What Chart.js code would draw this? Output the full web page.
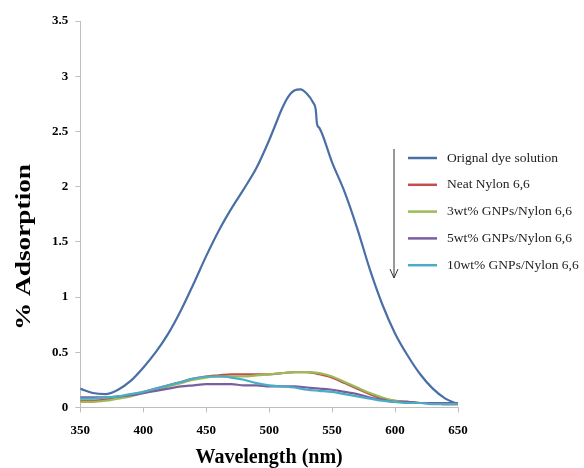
<!DOCTYPE html>
<html>
<head>
<meta charset="utf-8">
<script src="https://cdn.jsdelivr.net/npm/chart.js@4/dist/chart.umd.min.js"></script>
<style>
  html, body { margin: 0; padding: 0; background: #fff; }
  #wrap { width: 584px; height: 468px; }
</style>
</head>
<body>
<div id="wrap"><canvas id="spectra"></canvas></div>
<script>
// wavelengths for the dye curve (extra points round the peak)
let dyeWavelengths = [350, 360, 370, 380, 390, 400, 410, 420, 430, 440, 450, 460, 470, 480, 490, 500, 505, 510, 515, 520, 525, 530, 535, 537, 538, 540, 550, 560, 570, 580, 590, 600, 610, 620, 630, 640, 650];
let dyeValues = [0.17, 0.13, 0.12, 0.16, 0.24, 0.36, 0.5, 0.67, 0.88, 1.12, 1.37, 1.6, 1.8, 1.98, 2.17, 2.42, 2.56, 2.7, 2.81, 2.87, 2.88, 2.84, 2.76, 2.7, 2.57, 2.53, 2.22, 1.95, 1.62, 1.25, 0.93, 0.67, 0.47, 0.3, 0.17, 0.08, 0.03];

// wavelengths for the membrane curves
let wavelengths = [350, 360, 370, 380, 390, 400, 410, 420, 430, 440, 450, 460, 470, 480, 490, 500, 510, 520, 530, 540, 550, 560, 570, 580, 590, 600, 610, 620, 630, 640, 650];
let neatNylon = [0.06, 0.06, 0.07, 0.09, 0.11, 0.14, 0.17, 0.2, 0.23, 0.26, 0.28, 0.29, 0.3, 0.3, 0.3, 0.3, 0.31, 0.32, 0.32, 0.3, 0.27, 0.22, 0.17, 0.12, 0.08, 0.06, 0.05, 0.04, 0.04, 0.03, 0.03];
let gnp3 = [0.05, 0.05, 0.06, 0.08, 0.1, 0.13, 0.16, 0.19, 0.22, 0.25, 0.27, 0.28, 0.28, 0.28, 0.29, 0.3, 0.31, 0.32, 0.32, 0.31, 0.28, 0.23, 0.18, 0.13, 0.09, 0.06, 0.05, 0.04, 0.04, 0.03, 0.03];
let gnp5 = [0.09, 0.09, 0.09, 0.1, 0.11, 0.13, 0.15, 0.17, 0.19, 0.2, 0.21, 0.21, 0.21, 0.2, 0.2, 0.19, 0.19, 0.19, 0.18, 0.17, 0.16, 0.14, 0.12, 0.09, 0.07, 0.05, 0.05, 0.04, 0.04, 0.04, 0.04];
let gnp10 = [0.08, 0.08, 0.09, 0.1, 0.12, 0.14, 0.17, 0.2, 0.23, 0.26, 0.28, 0.28, 0.27, 0.25, 0.22, 0.2, 0.19, 0.18, 0.16, 0.15, 0.14, 0.12, 0.1, 0.08, 0.06, 0.05, 0.04, 0.04, 0.03, 0.03, 0.03];

let seriesNames = ["Orignal dye solution", "Neat Nylon 6,6", "3wt% GNPs/Nylon 6,6", "5wt% GNPs/Nylon 6,6", "10wt% GNPs/Nylon 6,6"];
let seriesColors = ["#4a6ea6", "#c0504d", "#9bbb59", "#7a5fa0", "#4bacc6"];

let xTicks = [350, 400, 450, 500, 550, 600, 650];
let yTicks = [0, 0.5, 1, 1.5, 2, 2.5, 3, 3.5];

const serif = "'Liberation Serif', 'DejaVu Serif', serif";

function points(xs, ys) {
  return xs.map((x, i) => ({ x: x, y: ys[i] }));
}

let curves = [
  points(dyeWavelengths, dyeValues),
  points(wavelengths, neatNylon),
  points(wavelengths, gnp3),
  points(wavelengths, gnp5),
  points(wavelengths, gnp10),
];

let datasets = curves.map((data, i) => ({
  label: seriesNames[i],
  data: data,
  borderColor: seriesColors[i],
  backgroundColor: seriesColors[i],
  borderWidth: 2.2,
  pointRadius: 0,
  cubicInterpolationMode: "monotone",
  order: curves.length - i,
}));

// legend + arrow drawn inside the plot, like the original figure
const sideLegend = {
  id: "sideLegend",
  afterDraw(chart) {
    const ctx = chart.ctx;
    const x0 = 408;
    const y0 = 158;
    const gap = 26.8;
    ctx.save();
    chart.data.datasets.forEach((ds, i) => {
      const y = y0 + i * gap;
      ctx.strokeStyle = ds.borderColor;
      ctx.lineWidth = 2.5;
      ctx.beginPath();
      ctx.moveTo(x0, y);
      ctx.lineTo(x0 + 29, y);
      ctx.stroke();
      ctx.fillStyle = "#222";
      ctx.font = "13.5px " + serif;
      ctx.textBaseline = "middle";
      ctx.fillText(ds.label, x0 + 39, y);
    });

    // arrow pointing down
    const ax = 394;
    ctx.strokeStyle = "#333";
    ctx.lineWidth = 1;
    ctx.beginPath();
    ctx.moveTo(ax, 149);
    ctx.lineTo(ax, 278);
    ctx.moveTo(ax - 4, 269);
    ctx.lineTo(ax, 278);
    ctx.lineTo(ax + 4, 269);
    ctx.stroke();

    // y axis title (stretched along its length in the original)
    ctx.translate(25, 247);
    ctx.rotate(-Math.PI / 2);
    ctx.scale(1.3, 1);
    ctx.font = "bold 21px " + serif;
    ctx.fillStyle = "#000";
    ctx.textAlign = "center";
    ctx.textBaseline = "middle";
    ctx.fillText("% Adsorption", 0, 0);
    ctx.restore();
  },
};

new Chart(document.querySelector("#spectra"), {
  type: "line",
  data: { datasets: datasets },
  options: {
    responsive: true,
    maintainAspectRatio: false,
    animation: false,
    layout: { padding: { top: 21, right: 126, left: 45, bottom: 0 } },
    plugins: {
      legend: { display: false },
      tooltip: { enabled: false },
    },
    scales: {
      x: {
        type: "linear",
        min: 350,
        max: 650,
        afterBuildTicks: (axis) => {
          axis.ticks = xTicks.map((v) => ({ value: v }));
        },
        ticks: {
          color: "#000",
          font: { family: serif, size: 13, weight: "bold" },
          padding: 10,
        },
        grid: { drawOnChartArea: false, tickLength: 5, color: "#bfbfbf" },
        border: { color: "#bfbfbf" },
        title: {
          display: true,
          text: "Wavelength (nm)",
          color: "#000",
          font: { family: serif, size: 20, weight: "bold", lineHeight: 1.0 },
          padding: { top: 0, bottom: 0 },
        },
      },
      y: {
        min: 0,
        max: 3.5,
        afterBuildTicks: (axis) => {
          axis.ticks = yTicks.map((v) => ({ value: v }));
        },
        ticks: {
          color: "#000",
          font: { family: serif, size: 13, weight: "bold" },
          padding: 7,
          callback: (v) => String(v),
        },
        grid: { drawOnChartArea: false, tickLength: 5, color: "#bfbfbf" },
        border: { color: "#bfbfbf" },
      },
    },
  },
  plugins: [sideLegend],
});
</script>
</body>
</html>
